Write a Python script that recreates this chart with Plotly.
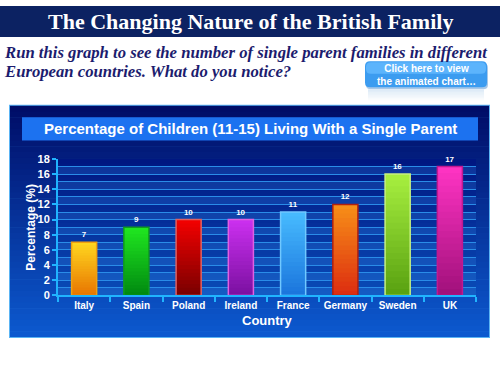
import plotly.graph_objects as go

countries = ["Italy", "Spain", "Poland", "Ireland", "France", "Germany", "Sweden", "UK"]
values = [7, 9, 10, 10, 11, 12, 16, 17]
y_ticks = [0, 2, 4, 6, 8, 10, 12, 14, 16, 18]

top_colors = ["#ffd820", "#20e820", "#f40000", "#cc30f0", "#48bcff", "#f89018", "#a8f040", "#ff34c4"]
bottom_colors = ["#e87400", "#008810", "#780000", "#7a10a0", "#1a74dc", "#dc2c10", "#58a010", "#a0107a"]
border_colors = ["#f0a010", "#109a20", "#e06060", "#e060e0", "#70c8ff", "#b02010", "#c8f080", "#c01890"]

W, H = 500, 375
def px(x): return x / W
def py(y): return 1 - y / H

def hex2rgb(h):
    h = h.lstrip("#")
    return tuple(int(h[i:i + 2], 16) for i in (0, 2, 4))

def mix(c1, c2, t):
    a, b = hex2rgb(c1), hex2rgb(c2)
    return "rgb(%d,%d,%d)" % tuple(round(a[i] + (b[i] - a[i]) * t) for i in range(3))

shapes = []
def vgrad(x0, x1, y0, y1, ctop, cbot, n):
    for i in range(n):
        ya = y0 + (y1 - y0) * i / n
        yb = y0 + (y1 - y0) * (i + 1) / n + 0.6
        shapes.append(dict(type="rect", xref="paper", yref="paper", layer="below",
                           x0=px(x0), x1=px(x1), y0=py(ya), y1=py(min(yb, y1)),
                           fillcolor=mix(ctop, cbot, (i + 0.5) / n), line_width=0))

# banner
shapes.append(dict(type="rect", xref="paper", yref="paper", layer="below",
                   x0=0, x1=1, y0=py(32), y1=1, fillcolor="#0c2262", line_width=0))
# panel
shapes.append(dict(type="rect", xref="paper", yref="paper", layer="below",
                   x0=px(9), x1=px(490), y0=py(343), y1=py(102), fillcolor="#5ab4f4", line_width=0))
vgrad(10, 489, 103, 342, "#000c66", "#0c5ad0", 40)
# inner title box
shapes.append(dict(type="rect", xref="paper", yref="paper", layer="below",
                   x0=px(22), x1=px(478), y0=py(139), y1=py(115), fillcolor="#1c72f0", line_width=0))
# plot area gradient
vgrad(58, 476, 158, 299, "#001680", "#0a4cb8", 30)

# button
def rrect(x0, y0, x1, y1, r):
    X0, X1, Y0, Y1 = px(x0), px(x1), py(y0), py(y1)
    rx, ry = r / W, r / H
    return (f"M {X0+rx},{Y0} L {X1-rx},{Y0} Q {X1},{Y0} {X1},{Y0-ry} L {X1},{Y1+ry} "
            f"Q {X1},{Y1} {X1-rx},{Y1} L {X0+rx},{Y1} Q {X0},{Y1} {X0},{Y1+ry} "
            f"L {X0},{Y0-ry} Q {X0},{Y0} {X0+rx},{Y0} Z")
shapes.append(dict(type="path", xref="paper", yref="paper", layer="below",
                   path=rrect(366, 59, 488, 86, 5), fillcolor="#a8c8e8", line_width=0))
shapes.append(dict(type="path", xref="paper", yref="paper", layer="below",
                   path=rrect(365, 57, 487, 84, 5), fillcolor="#3c9cf0", line_width=0))
shapes.append(dict(type="path", xref="paper", yref="paper", layer="below",
                   path=rrect(366, 58, 486, 70, 5), fillcolor="#5cb4fc", line_width=0))
# reflection
vgrad(368, 484, 86, 98, "#dbe9f6", "#ffffff", 8)

# alternating bands in plot area
for k in range(0, 18, 2):
    shapes.append(dict(type="rect", xref="paper", yref="y", layer="below",
                       x0=px(58), x1=px(476), y0=k, y1=k + 1,
                       fillcolor="rgba(60,150,240,0.22)", line_width=0))

fig = go.Figure()

N = 20
for k in range(N):
    t = 1 - (k + 0.5) / N
    extra = 0.15 if k < N - 1 else 0
    fig.add_trace(go.Bar(
        x=countries, y=[v / N + extra for v in values], base=[v * k / N for v in values],
        width=0.48, marker=dict(color=[mix(top_colors[i], bottom_colors[i], t) for i in range(len(values))],
                                line_width=0),
        hoverinfo="skip", showlegend=False))

fig.add_trace(go.Bar(
    x=countries, y=values, width=0.48,
    marker=dict(color="rgba(0,0,0,0)", line=dict(color=border_colors, width=1.5)),
    text=values, texttemplate="%{y}", textposition="outside",
    textfont=dict(family="Liberation Sans", size=8, color="white", weight="bold"),
    cliponaxis=False, showlegend=False))

def ann(text, x, y, font, xanchor="center", **kw):
    return dict(text=text, x=px(x), y=py(y), xref="paper", yref="paper", showarrow=False,
                xanchor=xanchor, yanchor="middle", font=font, **kw)

annotations = [
    ann("The Changing Nature of the British Family", 250, 16,
        dict(family="Liberation Serif", size=22, color="white", weight="bold")),
    ann("Run this graph to see the number of single parent families in different", 2, 48,
        dict(family="Liberation Serif", size=16.7, color="#1c1c6e", weight="bold", style="italic"), xanchor="left"),
    ann("European countries. What do you notice?", 2, 68,
        dict(family="Liberation Serif", size=16.7, color="#1c1c6e", weight="bold", style="italic"), xanchor="left"),
    ann("Click here to view<br>the animated chart\u2026", 426, 71,
        dict(family="Liberation Sans", size=10, color="white", weight="bold"), align="center"),
    ann("Percentage of Children (11-15) Living With a Single Parent", 250, 127,
        dict(family="Liberation Sans", size=15, color="white", weight="bold")),
    ann("Country", 267, 325, dict(family="Liberation Sans", size=13, color="white", weight="bold")),
    ann("Percentage (%)", 31, 229, dict(family="Liberation Sans", size=12, color="white", weight="bold"),
        textangle=-90),
]

fig.update_layout(
    width=W, height=H, margin=dict(l=0, r=0, t=0, b=0),
    paper_bgcolor="white", plot_bgcolor="rgba(0,0,0,0)",
    barmode="overlay", showlegend=False,
    shapes=shapes, annotations=annotations,
    xaxis=dict(domain=[px(58), px(476)], type="category", tickson="boundaries", tickangle=0,
               ticks="outside", ticklen=5, tickwidth=2, tickcolor="#20b4ff",
               showline=True, linecolor="#20b4ff", linewidth=2, showgrid=False,
               tickfont=dict(family="Liberation Sans", size=10, color="white", weight="bold")),
    yaxis=dict(domain=[py(299), py(158)], range=[0, 18], tickvals=y_ticks,
               ticks="outside", ticklen=4, tickwidth=2, tickcolor="#20b4ff",
               showline=True, linecolor="#20b4ff", linewidth=2,
               showgrid=True, gridcolor="#2a8ce8", gridwidth=1, zeroline=False,
               minor=dict(dtick=1, showgrid=True, gridcolor="#2a8ce8", gridwidth=1),
               tickfont=dict(family="Liberation Sans", size=11, color="white", weight="bold")),
)

fig.write_html("out.html", config={"displayModeBar": False},
               post_script="document.body.style.margin='0';document.body.style.overflow='hidden';")
